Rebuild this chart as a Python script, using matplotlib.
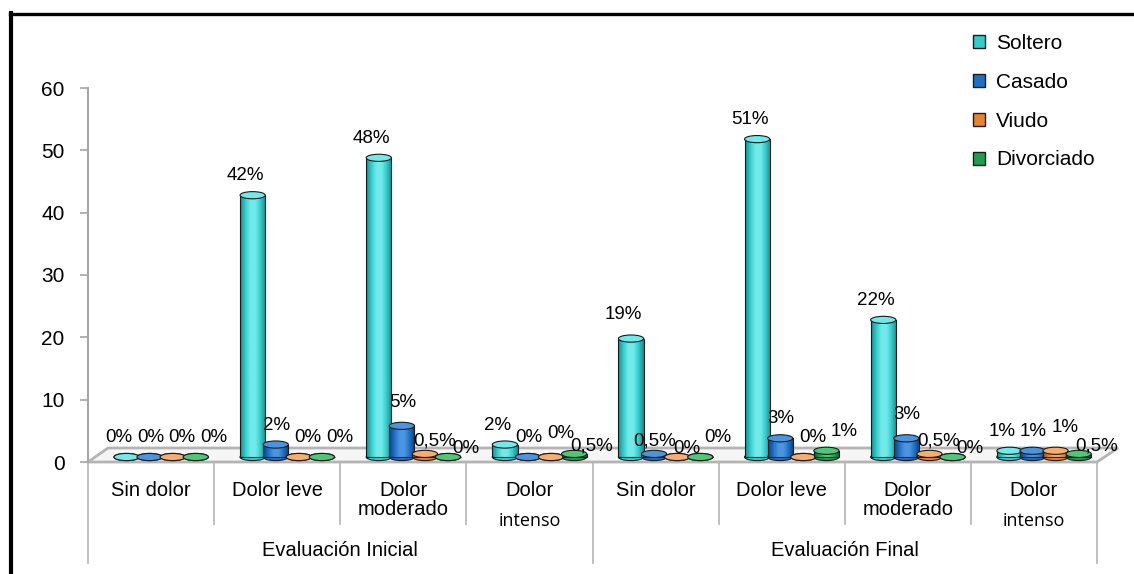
import numpy as np
import matplotlib
matplotlib.use("Agg")
import matplotlib.pyplot as plt
from matplotlib.patches import Ellipse, Polygon, Patch
from matplotlib.lines import Line2D
from matplotlib.colors import LinearSegmentedColormap

plt.rcParams['font.family'] = ['Liberation Sans', 'DejaVu Sans']

# data
categories = ["Sin dolor", "Dolor leve", "Dolor\nmoderado", "Dolor",
              "Sin dolor", "Dolor leve", "Dolor\nmoderado", "Dolor"]
groups = ["Evaluación Inicial", "Evaluación Final"]
series_names = ["Soltero", "Casado", "Viudo", "Divorciado"]
soltero = [0, 42, 48, 2, 19, 51, 22, 1]
casado = [0, 2, 5, 0, 0.5, 3, 3, 1]
viudo = [0, 0, 0.5, 0, 0, 0, 0.5, 1]
divorciado = [0, 0, 0, 0.5, 0, 1, 0, 0.5]
yticks = [0, 10, 20, 30, 40, 50, 60]

# colours: (dark, base, light)
palette = [("#178a8a", "#33cccc", "#72eaea"),
           ("#0d3f7c", "#1f6fc5", "#4a95e0"),
           ("#a04f12", "#e8822e", "#f7ad6e"),
           ("#0d5c2b", "#1e9e4f", "#4cc878")]


def fmt(v):
    if v == int(v):
        return "%d%%" % v
    return ("%g%%" % v).replace(".", ",")


def main():
    fig = plt.figure(figsize=(11.34, 5.74), dpi=100)
    W, H = 1134, 574
    x_left, x_right, y0, y60 = 88, 1097, 462, 88
    ax = fig.add_axes([x_left / W, (H - y0) / H, (x_right - x_left) / W, (y0 - y60) / H])

    n = len(categories)
    x = np.arange(n)
    bw = 0.2
    step = 0.183
    shift = 0.08
    base = 0.8
    ell_h = 1.15
    offsets = [(-1.5 + i) * step + shift for i in range(4)]
    lab_offsets = [(-1.5 + i) * 0.25 + 0.12 for i in range(4)]
    grad = np.linspace(0, 1, 64).reshape(1, -1)

    labels = [[] for _ in range(n)]
    all_series = [soltero, casado, viudo, divorciado]
    for i, vals in enumerate(all_series):
        dark, basec, light = palette[i]
        cmap = LinearSegmentedColormap.from_list("c%d" % i, [dark, basec, light, light, basec, dark])
        xs = x + offsets[i]
        bars = ax.bar(xs, vals, width=bw, bottom=base, facecolor="none",
                      edgecolor="#1a1a1a", linewidth=0.8, zorder=3 + i * 0.1)
        for k, (rect, xc, v) in enumerate(zip(bars, xs, vals)):
            bot = Ellipse((xc, base), bw, ell_h, facecolor=basec, edgecolor="#1a1a1a",
                          linewidth=0.8, zorder=2.9 + i * 0.1)
            ax.add_patch(bot)
            if v > 0:
                x0 = rect.get_x()
                im = ax.imshow(grad, extent=[x0, x0 + bw, base, base + v], aspect="auto",
                               cmap=cmap, zorder=2.95 + i * 0.1, interpolation="bilinear")
                im.set_clip_path(rect)
            top = Ellipse((xc, base + v), bw, ell_h, facecolor=light, edgecolor="#1a1a1a",
                          linewidth=0.8, zorder=3.05 + i * 0.1)
            ax.add_patch(top)
            t = ax.annotate(fmt(v), (k + lab_offsets[i], base + v), xytext=(0, 14),
                            textcoords="offset points", ha="center", va="center",
                            fontsize=13.5, zorder=6)
            labels[k].append(t)

    ax.set_xlim(-0.5, n - 0.5)
    ax.set_ylim(0, 60)
    ax.set_aspect("auto")

    # crowded labels: lift the left one, drop the right one (as Excel did)
    fig.canvas.draw()
    r = fig.canvas.get_renderer()
    for grp in labels:
        for a, b in zip(grp[:-1], grp[1:]):
            ea = a.get_window_extent(r)
            eb = b.get_window_extent(r)
            if ea.x1 - eb.x0 > 2:
                a.xyann = (a.xyann[0], a.xyann[1] + 3)
                b.xyann = (b.xyann[0], b.xyann[1] - 8)

    # 3d floor
    dx = 20 / 126.0
    dy = 14 / 6.23
    floor = Polygon([(-0.5, 0), (-0.5 + dx, dy), (n - 0.5 + dx * 1.05, dy), (n - 0.5, 0)],
                    closed=True, facecolor="#f6f6f6", edgecolor="#b4b4b4", linewidth=2,
                    clip_on=False, zorder=1)
    ax.add_patch(floor)

    for s in ["top", "right", "bottom"]:
        ax.spines[s].set_visible(False)
    ax.spines["left"].set_color("#a6a6a6")
    ax.spines["left"].set_linewidth(1.5)
    ax.set_yticks(yticks)
    ax.tick_params(axis="y", colors="#a6a6a6", length=6, width=1.2, labelsize=15,
                   labelcolor="black", pad=11)
    ax.set_xticks([])

    # category labels
    tr = ax.get_xaxis_transform()
    for k, lab in enumerate(categories):
        ax.text(k, -0.05, lab, transform=tr, ha="center", va="top", fontsize=14.5,
                linespacing=1.0)
        if k in (3, 7):
            ax.text(k, -0.135, "intenso", transform=tr, ha="center", va="top",
                    fontsize=13, family=["Open Sans", "DejaVu Sans"])
    for k in range(n + 1):
        bottom = -0.27 if k % 4 == 0 else -0.165
        ax.add_line(Line2D([k - 0.5, k - 0.5], [0, bottom], transform=tr,
                           color="#b4b4b4", linewidth=1.2, clip_on=False))
    for g, gname in enumerate(groups):
        ax.text(1.5 + 4 * g, -0.21, gname, transform=tr, ha="center", va="top", fontsize=14.5)

    # legend
    handles = [Patch(facecolor=palette[i][1], edgecolor="#1a1a1a", linewidth=1.0)
               for i in range(4)]
    fig.legend(handles, series_names, loc="upper left", bbox_to_anchor=(973 / W, 1 - 34 / H),
               frameon=False, fontsize=15, handlelength=0.58, handleheight=0.58,
               handletextpad=0.53, labelspacing=0.95, borderpad=0, borderaxespad=0)

    # outer frame
    fig.add_artist(Line2D([11 / W, 11 / W], [0, 1 - 13 / H], color="black", linewidth=3))
    fig.add_artist(Line2D([10 / W, 1], [1 - 14 / H, 1 - 14 / H], color="black", linewidth=2.4))

    fig.savefig("out.png", dpi=100)


if __name__ == '__main__':
    main()
